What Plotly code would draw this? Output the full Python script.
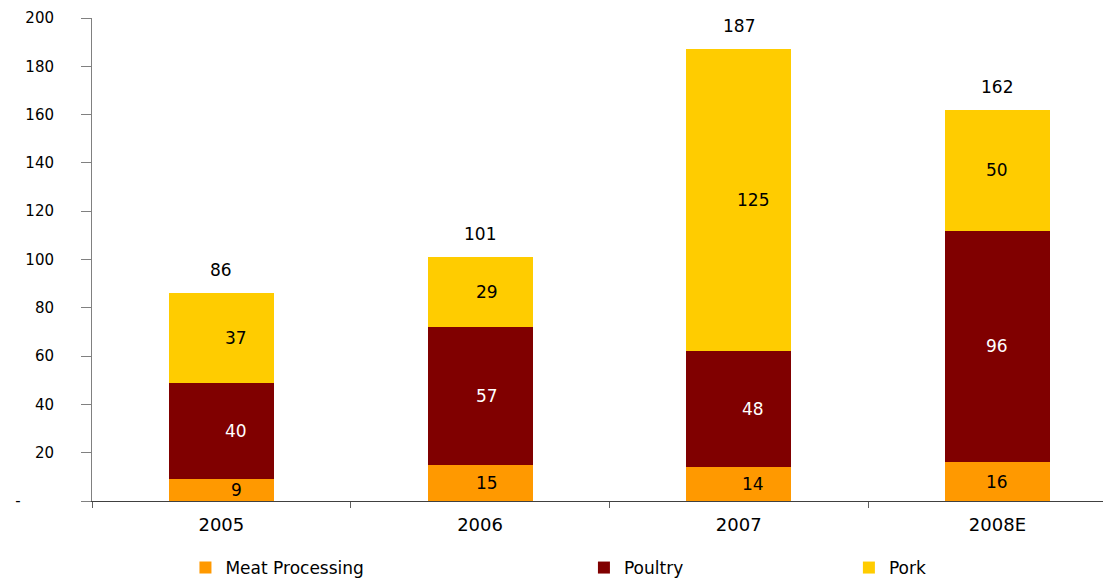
import plotly.graph_objects as go

years = ["2005", "2006", "2007", "2008E"]
meat = [9, 15, 14, 16]
poultry = [40, 57, 48, 96]
pork = [37, 29, 125, 50]
totals = [86, 101, 187, 162]
y_ticks = [0, 20, 40, 60, 80, 100, 120, 140, 160, 180, 200]
y_ticktext = ["-" + "\u00a0" * 7, "20", "40", "60", "80", "100", "120", "140", "160", "180", "200"]

FONT = "DejaVu Sans"
label_xshift = [15, 7, 14, 0]  # label offset per bar (style)
series = [
    ("Meat Processing", meat, "#FF9900", "black", "legend"),
    ("Poultry", poultry, "#800000", "white", "legend2"),
    ("Pork", pork, "#FFCC00", "black", "legend3"),
]

fig = go.Figure()
for name, vals, color, tcol, leg in series:
    fig.add_trace(go.Bar(x=years, y=vals, name=name, marker=dict(color=color, line=dict(width=0)),
                         width=0.406, legend=leg, showlegend=True, hoverinfo="skip"))

annotations = []
base = [0] * len(years)
for name, vals, color, tcol, leg in series:
    for i, v in enumerate(vals):
        annotations.append(dict(x=i, y=base[i] + v / 2, text=str(v), showarrow=False,
                                xshift=label_xshift[i], font=dict(family=FONT, size=17, color=tcol)))
        base[i] += v
for i, t in enumerate(totals):
    annotations.append(dict(x=i, y=t, text=str(t), showarrow=False, yshift=23,
                            font=dict(family=FONT, size=17, color="black")))

leg_common = dict(orientation="h", yanchor="middle", y=-0.139, xanchor="left",
                  font=dict(family=FONT, size=17, color="black"), itemwidth=30,
                  bgcolor="rgba(0,0,0,0)", borderwidth=0)

fig.update_layout(
    barmode="stack",
    showlegend=True,
    width=1111, height=578,
    margin=dict(l=84, r=0, t=10, b=77),
    plot_bgcolor="white", paper_bgcolor="white",
    annotations=annotations,
    legend=dict(x=0.091, **leg_common),
    legend2=dict(x=0.479, **leg_common),
    legend3=dict(x=0.737, **leg_common),
    xaxis=dict(range=[-0.5, 3.47], tickson="boundaries", ticks="outside", ticklen=6,
               tickcolor="#606060", showline=True, linecolor="#404040", linewidth=1,
               showgrid=False, tickfont=dict(family=FONT, size=18, color="black"),
               ticklabelstandoff=7, automargin=False),
    yaxis=dict(range=[0, 200], tickvals=y_ticks, ticktext=y_ticktext, ticks="outside",
               ticklen=10, tickcolor="#808080", showline=True, linecolor="#808080",
               linewidth=1, showgrid=False, zeroline=False, automargin=False,
               tickfont=dict(family=FONT, size=15, color="black"), ticklabelstandoff=24),
)

fig.write_html("out.html")
